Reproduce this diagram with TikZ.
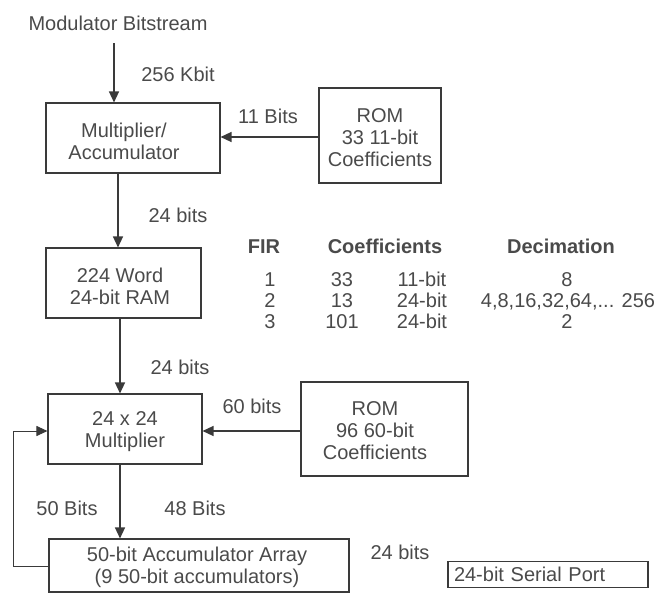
\documentclass[tikz,border=0pt]{standalone}
\usepackage{fontspec}
\setmainfont{Liberation Sans}
\usetikzlibrary{arrows.meta}
\definecolor{ink}{HTML}{3A3A3A}
\definecolor{txt}{HTML}{4A4A4A}
\begin{document}
\begin{tikzpicture}[x=1pt,y=-1pt,
  every node/.style={text=txt,font=\fontsize{20}{22}\selectfont,inner sep=0pt},
  blk/.style={draw=ink,line width=1.1pt,minimum width=#1},
  inner/.style={align=center},
  word/.style={text height=14.4pt,text depth=0pt,anchor=center},
  link/.style={draw=ink,line width=1.4pt,-{Triangle[length=11pt,width=10pt]}},
  back/.style={draw=ink,line width=1pt,-{Triangle[length=11pt,width=10pt]}},
  hdr/.style={word,font=\bfseries\fontsize{20}{22}\selectfont}]
\useasboundingbox (0,0) rectangle (657,597);

% block outlines
\node[word] (title) at (118,23) {Modulator Bitstream};
\coordinate (src) at (114,43);
\node[blk=174pt,minimum height=70pt] (mac) at (133,138) {};
\node[blk=122pt,minimum height=95pt] (rom1) at (380,135.5) {};
\node[blk=155pt,minimum height=70pt] (ram) at (123.5,283) {};
\node[blk=154pt,minimum height=70pt] (mul) at (125,429) {};
\node[blk=167pt,minimum height=94pt] (rom2) at (384.5,429) {};
\node[blk=300pt,minimum height=53pt] (acc) at (199,565.5) {};
\node[draw=ink,line width=1.1pt,minimum width=200pt,minimum height=26pt,
      text width=188pt,align=left] (serial) at (548,574.5) {24-bit Serial Port};

% block texts
\node[inner] (macT) at (124,141) {Multiplier/\\Accumulator};
\node[inner] (rom1T) at (380,138) {ROM\\33 11-bit\\Coefficients};
\node[inner] (ramT) at (120,286) {224 Word\\24-bit RAM};
\node[inner] (mulT) at (125,432) {24 x 24\\Multiplier};
\node[inner] (rom2T) at (375,431) {ROM\\96 60-bit\\Coefficients};
\node[inner] (accT) at (197,567) {50-bit Accumulator Array\\(9 50-bit accumulators)};

% connectors
\draw[link] (src) -- (src |- mac.north);
\draw[link] (rom1.west |- 0,137) -- (mac.east |- 0,137);
\draw[link] (mac.south -| 118,0) -- (ram.north -| 118,0);
\draw[link] (ram.south -| 120,0) -- (mul.north -| 120,0);
\draw[link] (rom2.west |- 0,431) -- (mul.east |- 0,431);
\draw[link] (mul.south -| 120,0) -- (acc.north -| 120,0);
\coordinate (fbA) at (13,566);
\coordinate (fbB) at (13,431);
\draw[back] (acc.west |- fbA) -- (fbA) -- (fbB) -- (mul.west |- fbB);

% connector labels
\node[word] (l256) at (178,74) {256 Kbit};
\node[word] (l11) at (268,116) {11 Bits};
\node[word] (l24a) at (178,215) {24 bits};
\node[word] (l24b) at (180,367) {24 bits};
\node[word] (l60) at (252,406) {60 bits};
\node[word] (l50) at (67,508) {50 Bits};
\node[word] (l48) at (195,508) {48 Bits};
\node[word] (l24c) at (400,552) {24 bits};

% FIR table
\node[hdr] (hFIR) at (264,246) {FIR};
\node[hdr] (hCoef) at (385,246) {Coefficients};
\node[hdr] (hDec) at (561,246) {Decimation};
\node[word] (r1a) at (270,279) {1};
\node[word] (r1b) at (342,279) {33};
\node[word] (r1c) at (422,279) {11-bit};
\node[word] (r1d) at (567,279) {8};
\node[word] (r2a) at (270,300) {2};
\node[word] (r2b) at (342,300) {13};
\node[word] (r2c) at (422,300) {24-bit};
\node[word] (r2d) at (568,300) {4,8,16,32,64,... 256};
\node[word] (r3a) at (270,321) {3};
\node[word] (r3b) at (342,321) {101};
\node[word] (r3c) at (422,321) {24-bit};
\node[word] (r3d) at (567,321) {2};
\end{tikzpicture}
\end{document}
